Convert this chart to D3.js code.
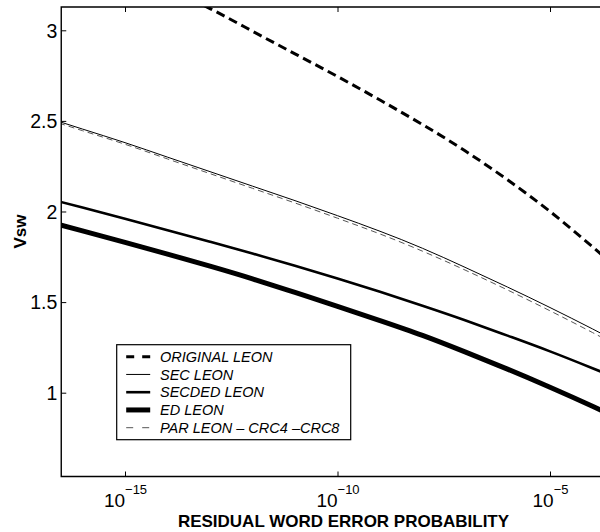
<!DOCTYPE html>
<html>
<head>
<meta charset="utf-8">
<script src="https://cdn.jsdelivr.net/npm/d3@7"></script>
<style>
  body { margin: 0; background: #fff; }
  svg { display: block; font-family: "Liberation Sans", Arial, sans-serif; }
</style>
</head>
<body>
<svg width="600" height="532"></svg>
<script>
// x values: residual word error probability (log scale)
const probs = [1e-17, 1e-16, 1e-15, 1e-14, 1e-13, 1e-12, 1e-11, 1e-10, 1e-9, 1e-8, 1e-7, 1e-6, 1e-5, 1e-4, 1e-3];

const original = [3.57, 3.46, 3.35, 3.235, 3.12, 2.995, 2.87, 2.745, 2.615, 2.48, 2.335, 2.175, 2.0, 1.805, 1.6];
const sec      = [2.53, 2.455, 2.38, 2.30, 2.22, 2.14, 2.06, 1.977, 1.891, 1.797, 1.692, 1.583, 1.47, 1.352, 1.23];
const secded   = [2.082, 2.022, 1.96, 1.897, 1.833, 1.768, 1.70, 1.63, 1.557, 1.48, 1.40, 1.315, 1.228, 1.135, 1.04];
const ed       = [1.955, 1.893, 1.83, 1.765, 1.698, 1.628, 1.553, 1.477, 1.398, 1.316, 1.225, 1.13, 1.03, 0.925, 0.815];
const par      = [2.522, 2.446, 2.371, 2.290, 2.209, 2.128, 2.047, 1.963, 1.876, 1.781, 1.677, 1.567, 1.452, 1.332, 1.208];

const seriesNames = ['ORIGINAL LEON', 'SEC LEON', 'SECDED LEON', 'ED LEON', 'PAR LEON \u2013 CRC4 \u2013CRC8'];

const xTicks = [1e-15, 1e-10, 1e-5];
const xTickExps = ['\u221215', '\u221210', '\u22125'];
const yTicks = [1, 1.5, 2, 2.5, 3];

const plotLeft = 61.25, plotTop = 7, plotBottom = 476.5;
const decade = 42.5;

const svg = d3.select('svg');

const x = d3.scaleLog().domain([Math.pow(10, -16.5), 1e-3]).range([plotLeft, plotLeft + 13.5 * decade]);
const y = d3.scaleLinear().domain([0.5375, 3.1286]).range([plotBottom, plotTop]);

// styles per series (legend dash differs a bit from the plotted one)
const styles = [
  { data: original, width: 3, color: '#000', dash: '9,5', legendDash: '8,8' },
  { data: sec, width: 1, color: '#000', dash: null, legendDash: null },
  { data: secded, width: 2.6, color: '#000', dash: null, legendDash: null },
  { data: ed, width: 5, color: '#000', dash: null, legendDash: null },
  { data: par, width: 1, color: '#555', dash: '6,4', legendDash: '7,9' }
];

svg.append('clipPath').attr('id', 'plot')
  .append('rect')
  .attr('x', plotLeft).attr('y', plotTop)
  .attr('width', 600 - plotLeft).attr('height', plotBottom - plotTop);

const line = d3.line()
  .x((d, i) => x(probs[i]))
  .y(d => y(d))
  .curve(d3.curveNatural);

const order = [0, 3, 2, 4, 1];
svg.append('g').attr('clip-path', 'url(#plot)')
  .selectAll('path')
  .data(order.map(i => styles[i]))
  .enter()
  .append('path')
  .attr('d', s => line(s.data))
  .attr('fill', 'none')
  .attr('stroke', s => s.color)
  .attr('stroke-width', s => s.width)
  .attr('stroke-dasharray', s => s.dash);

// axes
const yAxis = svg.append('g')
  .attr('transform', `translate(${plotLeft}, 0)`)
  .call(d3.axisRight(y).tickValues(yTicks).tickSize(5).tickFormat(''));
yAxis.select('.domain').remove();
yAxis.selectAll('.tick line').attr('stroke', '#000').attr('stroke-width', 1);
yAxis.selectAll('.tick')
  .append('text')
  .attr('x', -4)
  .attr('dy', '0.35em')
  .attr('text-anchor', 'end')
  .attr('fill', '#000')
  .style('font-size', '19.5px')
  .text(d => d);

const xAxis = svg.append('g')
  .attr('transform', `translate(0, ${plotBottom})`)
  .call(d3.axisTop(x).tickValues(xTicks).tickSize(5).tickFormat(''));
xAxis.select('.domain').remove();
xAxis.selectAll('.tick line').attr('stroke', '#000').attr('stroke-width', 1);
const xLabel = xAxis.selectAll('.tick')
  .append('text')
  .attr('y', 30.2)
  .attr('text-anchor', 'middle')
  .attr('fill', '#000')
  .style('font-size', '19px');
xLabel.append('tspan').text('10');
xLabel.append('tspan')
  .attr('dy', -12.4)
  .style('font-size', '13px')
  .text((d, i) => xTickExps[i]);

const xTop = svg.append('g')
  .attr('transform', `translate(0, ${plotTop})`)
  .call(d3.axisBottom(x).tickValues(xTicks).tickSize(5).tickFormat(''));
xTop.select('.domain').remove();
xTop.selectAll('.tick line').attr('stroke', '#000').attr('stroke-width', 1);

// frame (left, bottom, top)
svg.append('path')
  .attr('d', `M600,${plotTop}H${plotLeft}V${plotBottom}H600`)
  .attr('fill', 'none')
  .attr('stroke', '#000')
  .attr('stroke-width', 1.4);

// axis titles
svg.append('text')
  .attr('x', 343.5)
  .attr('y', 526.5)
  .attr('text-anchor', 'middle')
  .style('font-size', '17px')
  .style('font-weight', 'bold')
  .text('RESIDUAL WORD ERROR PROBABILITY');

svg.append('text')
  .attr('transform', 'translate(26, 231.5) rotate(-90)')
  .attr('text-anchor', 'middle')
  .style('font-size', '17px')
  .style('font-weight', 'bold')
  .text('Vsw');

// legend
const legend = svg.append('g').attr('transform', 'translate(116.7, 344.7)');
legend.append('rect')
  .attr('width', 234)
  .attr('height', 95)
  .attr('fill', '#fff')
  .attr('stroke', '#000')
  .attr('stroke-width', 1.2);

const rows = legend.selectAll('g.row')
  .data(styles)
  .enter()
  .append('g')
  .attr('class', 'row')
  .attr('transform', (s, i) => `translate(0, ${12 + i * 17.75})`);

rows.append('line')
  .attr('x1', 9.5).attr('x2', 33.5)
  .attr('stroke', s => s.color)
  .attr('stroke-width', s => s.width)
  .attr('stroke-dasharray', s => s.legendDash);

rows.append('text')
  .attr('x', 43.3)
  .attr('dy', '0.36em')
  .style('font-size', '14.5px')
  .style('font-style', 'italic')
  .text((s, i) => seriesNames[i]);
</script>
</body>
</html>
